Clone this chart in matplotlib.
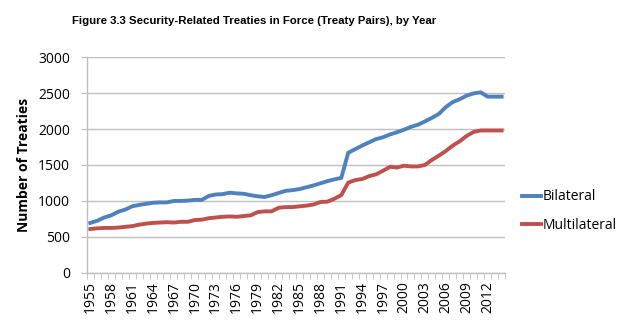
import matplotlib
matplotlib.use("Agg")
import matplotlib.pyplot as plt
import numpy as np

years = list(range(1955, 2015))

bilateral = [
    695, 725, 770, 800, 850, 880, 925, 945, 960, 975,
    980, 980, 1000, 1000, 1005, 1015, 1015, 1070, 1090, 1095,
    1115, 1105, 1100, 1080, 1065, 1055, 1080, 1110, 1140, 1150,
    1165, 1190, 1215, 1245, 1275, 1300, 1320, 1670, 1720, 1770,
    1815, 1860, 1885, 1925, 1955, 1990, 2030, 2060, 2105, 2155,
    2210, 2305, 2375, 2415, 2465, 2495, 2510, 2450, 2450, 2450,
]

multilateral = [
    610, 620, 625, 625, 630, 640, 650, 670, 685, 695,
    700, 705, 700, 710, 710, 735, 740, 760, 770, 780,
    785, 780, 790, 800, 845, 855, 855, 905, 915, 915,
    925, 935, 950, 985, 990, 1030, 1080, 1255, 1290, 1305,
    1345, 1370, 1420, 1475, 1465, 1490, 1480, 1480, 1500, 1570,
    1630, 1695, 1770, 1830, 1905, 1960, 1980, 1980, 1980, 1980,
]

label_years = list(range(1955, 2013, 3))

blue = "#4F81BD"
red = "#C0504D"
grid_gray = "#BFBFBF"

fig = plt.figure(figsize=(6.29, 3.28), dpi=100)
ax = fig.add_axes([0.138, 0.168, 0.665, 0.658])

ax.plot(years, bilateral, color=blue, lw=2.8, solid_joinstyle="round", label="Bilateral")
ax.plot(years, multilateral, color=red, lw=2.8, solid_joinstyle="round", label="Multilateral")

ax.set_xlim(years[0] - 0.5, years[-1] + 0.5)
ax.set_ylim(0, 3000)
ax.set_yticks(range(0, 3001, 500))
ax.yaxis.grid(True, color=grid_gray, lw=1.0)
ax.set_axisbelow(True)

ax.set_xticks(label_years)
ax.set_xticklabels([str(y) for y in label_years], rotation=90,
                   family="Open Sans", fontsize=10)
ax.set_xticks(np.arange(years[0] - 0.5, years[-1] + 1.0, 1), minor=True)
ax.tick_params(axis="x", which="major", length=0, pad=6, colors="black")
ax.tick_params(axis="x", which="minor", length=4, color=grid_gray, direction="out")
ax.tick_params(axis="y", length=4, color=grid_gray, labelsize=10, pad=8)
for lab in ax.get_yticklabels():
    lab.set_family("Open Sans")

for side in ("top", "right"):
    ax.spines[side].set_visible(False)
for side in ("left", "bottom"):
    ax.spines[side].set_color(grid_gray)
    ax.spines[side].set_linewidth(1.0)

ax.set_ylabel("Number of Treaties", family="Open Sans", fontweight="bold",
              fontsize=10, labelpad=5)

ax.legend(loc="center left", bbox_to_anchor=(1.01, 0.285), frameon=False,
          handlelength=1.4, handletextpad=0.1, labelspacing=1.0,
          prop={"family": "Open Sans", "size": 10})

fig.text(0.404, 0.935, "Figure 3.3 Security-Related Treaties in Force (Treaty Pairs), by Year",
         ha="center", va="center", family="Liberation Sans",
         fontweight="bold", fontsize=8.2)

fig.savefig("out.png", dpi=100)
